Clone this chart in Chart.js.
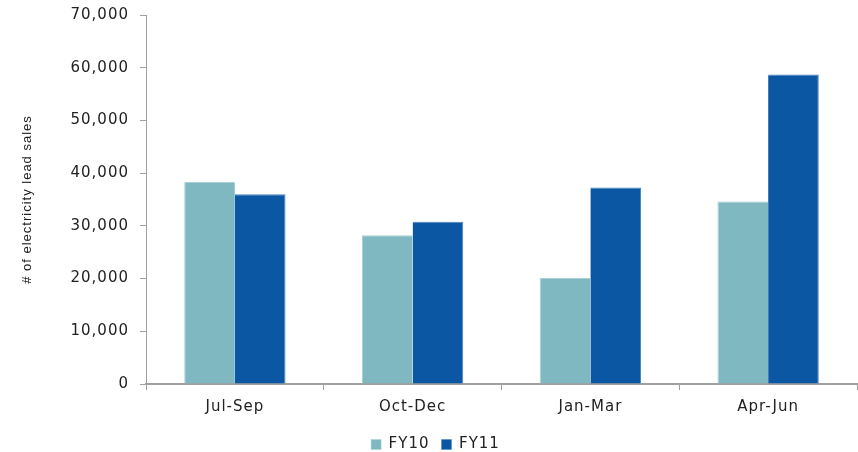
<!DOCTYPE html>
<html>
<head>
<meta charset="utf-8">
<script src="https://cdn.jsdelivr.net/npm/chart.js@4"></script>
<style>
  html, body { margin: 0; padding: 0; background: #fff; }
  #wrap { width: 858px; height: 452px; }
</style>
</head>
<body>
<div id="wrap"><canvas id="leadChart"></canvas></div>
<script>
// quarters and lead sales per financial year
const quarters = ['Jul-Sep', 'Oct-Dec', 'Jan-Mar', 'Apr-Jun'];
const fy10 = [38300, 28200, 20100, 34600];
const fy11 = [36000, 30800, 37300, 58700];
const yTicks = [0, 10000, 20000, 30000, 40000, 50000, 60000, 70000];

Chart.defaults.font.family = '"DejaVu Sans", Verdana, sans-serif';
Chart.defaults.color = '#222';

// the original text is set a little wider than normal
const spacing = {
    id: 'spacing',
    beforeUpdate(chart) { chart.ctx.letterSpacing = '1px'; },
    beforeLayout(chart) { chart.ctx.letterSpacing = '1px'; },
    beforeDraw(chart) { chart.ctx.letterSpacing = '1px'; }
};

const ctx = document.getElementById('leadChart').getContext('2d');
const leadChart = new Chart(ctx, {
    type: 'bar',
    data: {
        labels: quarters,
        datasets: [{
            label: 'FY10',
            data: fy10,
            backgroundColor: '#7fb8c1',
            borderColor: '#a6d0d6',
            borderWidth: {left: 1, right: 0, top: 1, bottom: 0},
            categoryPercentage: 0.57,
            barPercentage: 1
        }, {
            label: 'FY11',
            data: fy11,
            backgroundColor: '#0b57a4',
            borderColor: '#4a84c0',
            borderWidth: {left: 0, right: 1, top: 1, bottom: 0},
            categoryPercentage: 0.57,
            barPercentage: 1
        }]
    },
    plugins: [spacing],
    options: {
        responsive: true,
        maintainAspectRatio: false,
        animation: false,
        layout: {
            padding: {left: 14, right: 1, top: 15, bottom: -10}
        },
        scales: {
            x: {
                grid: {
                    offset: true,
                    drawOnChartArea: false,
                    tickLength: 6,
                    color: '#a0a0a0'
                },
                border: { color: '#a0a0a0', width: 2 },
                ticks: {
                    font: { size: 15 },
                    padding: 8
                },
                afterFit: function(axis) { axis.height = 41; }
            },
            y: {
                min: 0,
                max: 70000,
                afterBuildTicks: function(axis) {
                    axis.ticks = yTicks.map(v => ({ value: v }));
                },
                afterFit: function(axis) {
                    axis.width = 146 - 14;
                    axis.paddingTop = 0;
                    axis.paddingBottom = 0;
                },
                grid: {
                    drawOnChartArea: false,
                    tickLength: 6,
                    color: '#a0a0a0'
                },
                border: { color: '#a0a0a0', width: 1 },
                ticks: {
                    font: { size: 15 },
                    padding: 11,
                    callback: v => v.toLocaleString('en-US')
                },
                title: {
                    display: true,
                    text: '# of electricity lead sales',
                    font: { size: 13, family: '"Liberation Sans", Arial, sans-serif' },
                    padding: { top: 6, bottom: 0 }
                }
            }
        },
        plugins: {
            legend: {
                position: 'bottom',
                labels: {
                    boxWidth: 10,
                    boxHeight: 10,
                    padding: 12,
                    font: { size: 15 }
                }
            },
            tooltip: { enabled: false }
        }
    }
});
</script>
</body>
</html>
